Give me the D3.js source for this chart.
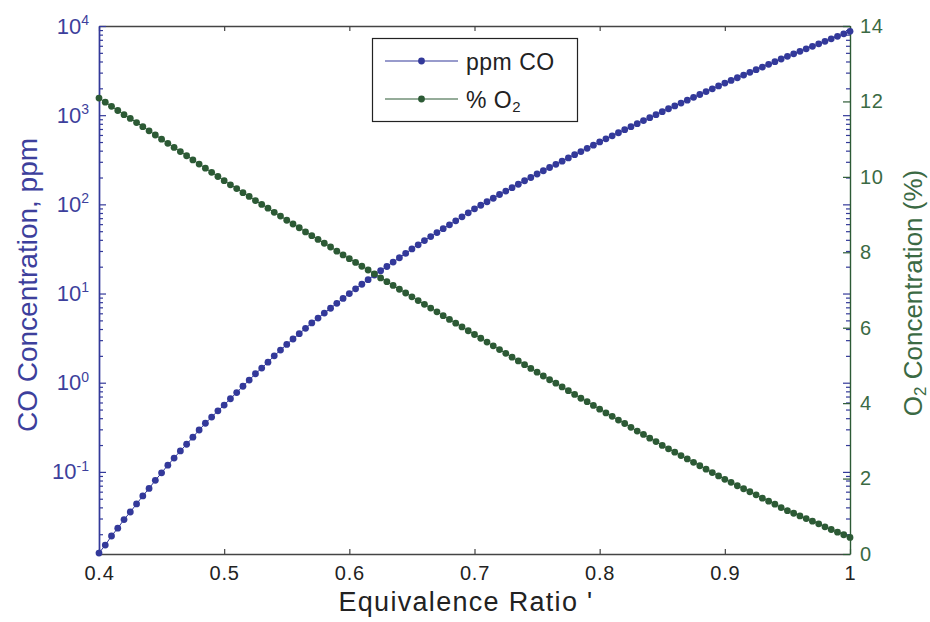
<!DOCTYPE html>
<html><head><meta charset="utf-8">
<script src="https://cdn.jsdelivr.net/npm/d3@7"></script>
<style>
body{margin:0;background:#fff}
svg{display:block}
text{font-family:"Liberation Sans",Arial,Helvetica,sans-serif}
</style>
</head><body>
<svg id="c" width="930" height="622"></svg>
<script>
// Equivalence ratio (x)
const phi = [
0.400,0.405,0.410,0.415,0.420,0.425,0.430,0.435,0.440,0.445,
0.450,0.455,0.460,0.465,0.470,0.475,0.480,0.485,0.490,0.495,
0.500,0.505,0.510,0.515,0.520,0.525,0.530,0.535,0.540,0.545,
0.550,0.555,0.560,0.565,0.570,0.575,0.580,0.585,0.590,0.595,
0.600,0.605,0.610,0.615,0.620,0.625,0.630,0.635,0.640,0.645,
0.650,0.655,0.660,0.665,0.670,0.675,0.680,0.685,0.690,0.695,
0.700,0.705,0.710,0.715,0.720,0.725,0.730,0.735,0.740,0.745,
0.750,0.755,0.760,0.765,0.770,0.775,0.780,0.785,0.790,0.795,
0.800,0.805,0.810,0.815,0.820,0.825,0.830,0.835,0.840,0.845,
0.850,0.855,0.860,0.865,0.870,0.875,0.880,0.885,0.890,0.895,
0.900,0.905,0.910,0.915,0.920,0.925,0.930,0.935,0.940,0.945,
0.950,0.955,0.960,0.965,0.970,0.975,0.980,0.985,0.990,0.995,
1.000];
// CO concentration, ppm (left, log axis)
const coPpm = [
0.0123,0.0151,0.0191,0.0234,0.0292,0.0355,0.0437,0.0537,0.0653,0.0804,
0.0977,0.119,0.143,0.172,0.204,0.245,0.295,0.351,0.412,0.484,
0.562,0.661,0.776,0.912,1.07,1.26,1.46,1.70,2.00,2.32,
2.69,3.09,3.55,4.07,4.68,5.31,6.03,6.84,7.76,8.81,
10.0,11.3,12.7,14.3,16.1,18.0,20.1,22.5,25.2,28.2,
31.6,35.2,39.2,43.5,48.2,53.3,59.0,65.3,72.4,80.4,
89.1,97.7,107,117,129,141,154,168,184,200,
219,238,259,281,305,332,361,391,425,461,
501,543,587,635,687,743,804,869,938,1014,
1096,1180,1271,1368,1472,1585,1706,1837,1977,2128,
2291,2455,2630,2818,3020,3236,3467,3715,3981,4266,
4571,4875,5200,5546,5916,6310,6730,7178,7656,8166,
8710];
// O2 concentration, % (right, linear axis)
const o2Pct = [
12.09,11.98,11.87,11.76,11.65,11.55,11.44,11.33,11.22,11.11,
11.00,10.89,10.78,10.67,10.56,10.45,10.34,10.23,10.12,10.01,
9.90,9.79,9.69,9.58,9.48,9.37,9.27,9.17,9.06,8.96,
8.85,8.75,8.65,8.54,8.44,8.34,8.24,8.14,8.03,7.93,
7.83,7.73,7.63,7.53,7.43,7.32,7.22,7.12,7.02,6.92,
6.82,6.72,6.62,6.52,6.42,6.32,6.22,6.12,6.02,5.92,
5.82,5.72,5.62,5.52,5.42,5.32,5.22,5.12,5.02,4.92,
4.82,4.72,4.62,4.53,4.43,4.33,4.23,4.13,4.04,3.94,
3.84,3.74,3.65,3.55,3.46,3.36,3.26,3.17,3.07,2.98,
2.88,2.79,2.70,2.61,2.52,2.43,2.34,2.25,2.16,2.07,
1.98,1.90,1.81,1.73,1.65,1.57,1.48,1.40,1.32,1.23,
1.15,1.08,1.01,0.94,0.87,0.80,0.72,0.65,0.58,0.51,
0.44];
const xTicks = [0.4,0.5,0.6,0.7,0.8,0.9,1.0];
const xTickLabels = ["0.4","0.5","0.6","0.7","0.8","0.9","1"];
const coDecadeExp = [-1,0,1,2,3,4];
const coMinorMult = [2,3,4,5,6,7,8,9];
const o2Ticks = [0,2,4,6,8,10,12,14];

const BLUE = "#33399a", BLUE_TXT = "#3d3f9c";
const GREEN = "#2c5a35", GREEN_TXT = "#3b6a44";
const AXIS = "#444";

const svg = d3.select("#c");
const L = 99, R = 850, T = 26, B = 554;
const x = d3.scaleLinear().domain([0.4, 1]).range([L, R]);
const yL = d3.scaleLog().domain([0.012, 10000]).range([B, T]);
const yR = d3.scaleLinear().domain([0, 14]).range([B, T]);

const majors = coDecadeExp.map(e => Math.pow(10, e));
const minors = [];
[-2,-1,0,1,2,3].forEach(e => coMinorMult.forEach(m => {
  const v = m * Math.pow(10, e);
  if (v >= 0.012 && v < 10000) minors.push(v);
}));

function styleAxis(g, color, w) {
  g.selectAll("path.domain").attr("stroke", color).attr("stroke-width", w);
  g.selectAll(".tick line").attr("stroke", color).attr("stroke-width", 1.2);
}

// Bottom axis
const gB = svg.append("g").attr("transform", `translate(0,${B})`)
  .call(d3.axisBottom(x).tickValues(xTicks).tickSizeInner(-5).tickSizeOuter(0).tickPadding(12)
    .tickFormat((d,i) => xTickLabels[i]));
styleAxis(gB, AXIS, 1.4);
gB.selectAll("text").attr("font-size", 20).attr("letter-spacing", 0.8).attr("fill", "#222");

// Top axis
const gT = svg.append("g").attr("transform", `translate(0,${T})`)
  .call(d3.axisTop(x).tickValues(xTicks).tickSizeInner(-5).tickSizeOuter(0).tickFormat(""));
styleAxis(gT, AXIS, 1.4);

// Left log axis (major, minor)
const gLmin = svg.append("g").attr("transform", `translate(${L},0)`)
  .call(d3.axisLeft(yL).tickValues(minors).tickSizeInner(-4).tickSizeOuter(0).tickFormat(""));
styleAxis(gLmin, BLUE, 1.4);
const gL = svg.append("g").attr("transform", `translate(${L},0)`)
  .call(d3.axisLeft(yL).tickValues(majors).tickSizeInner(-7).tickSizeOuter(0).tickPadding(10)
    .tickFormat(""));
styleAxis(gL, BLUE, 1.4);
gL.selectAll(".tick text").each(function(d, i) {
  const t = d3.select(this).attr("font-size", 22).attr("fill", BLUE_TXT);
  t.text("10");
  t.append("tspan").attr("font-size", 14).attr("dy", "-0.62em").text(String(coDecadeExp[i]));
});

// Right mirrored log ticks (blue)
const gRminL = svg.append("g").attr("transform", `translate(${R},0)`)
  .call(d3.axisRight(yL).tickValues(minors).tickSizeInner(-4).tickSizeOuter(0).tickFormat(""));
styleAxis(gRminL, BLUE, 0);
const gRmajL = svg.append("g").attr("transform", `translate(${R},0)`)
  .call(d3.axisRight(yL).tickValues(majors).tickSizeInner(-7).tickSizeOuter(0).tickFormat(""));
styleAxis(gRmajL, BLUE, 0);

// Right linear axis (green)
const gR = svg.append("g").attr("transform", `translate(${R},0)`)
  .call(d3.axisRight(yR).tickValues(o2Ticks).tickSizeInner(-7).tickSizeOuter(0).tickPadding(10));
styleAxis(gR, GREEN, 1.4);
gR.selectAll("text").attr("font-size", 20).attr("letter-spacing", 0.6).attr("fill", GREEN_TXT);

// Series
const lineCO = d3.line().x((d,i) => x(phi[i])).y(d => yL(d));
const lineO2 = d3.line().x((d,i) => x(phi[i])).y(d => yR(d));

svg.append("path").attr("d", lineCO(coPpm)).attr("fill", "none").attr("stroke", BLUE).attr("stroke-width", 1);
svg.append("g").selectAll("circle").data(coPpm).join("circle")
  .attr("cx", (d,i) => x(phi[i])).attr("cy", d => yL(d)).attr("r", 3.4).attr("fill", BLUE);

svg.append("path").attr("d", lineO2(o2Pct)).attr("fill", "none").attr("stroke", GREEN).attr("stroke-width", 1);
svg.append("g").selectAll("circle").data(o2Pct).join("circle")
  .attr("cx", (d,i) => x(phi[i])).attr("cy", d => yR(d)).attr("r", 3.4).attr("fill", GREEN);

// Legend
const lg = svg.append("g");
lg.append("rect").attr("x", 372.5).attr("y", 38.5).attr("width", 205).attr("height", 83)
  .attr("fill", "#fff").attr("stroke", "#222").attr("stroke-width", 1.2);
[[BLUE, 61, "ppm CO"], [GREEN, 99, "% O"]].forEach(([c, yy, label], k) => {
  lg.append("line").attr("x1", 385).attr("x2", 458).attr("y1", yy).attr("y2", yy).attr("stroke", c).attr("stroke-width", 1.2);
  lg.append("circle").attr("cx", 421.5).attr("cy", yy).attr("r", 3.4).attr("fill", c);
  const t = lg.append("text").attr("x", 466).attr("y", yy + 9).attr("font-size", 23)
    .attr("letter-spacing", 0.5).attr("fill", "#222").text(label);
  if (k === 1) t.append("tspan").attr("font-size", 15).attr("dy", 4).text("2");
});

// Axis titles
svg.append("text").attr("x", 466).attr("y", 611).attr("text-anchor", "middle")
  .attr("font-size", 27).attr("fill", "#222").attr("letter-spacing", 1.3).text("Equivalence Ratio '");

svg.append("text").attr("transform", "translate(37,285) rotate(-90)").attr("text-anchor", "middle")
  .attr("font-size", 28).attr("fill", BLUE_TXT).text("CO Concentration, ppm");

const rt = svg.append("text").attr("transform", "translate(922,293) rotate(-90)").attr("text-anchor", "middle")
  .attr("font-size", 26).attr("fill", GREEN_TXT);
rt.append("tspan").text("O");
rt.append("tspan").attr("font-size", 17).attr("dy", 4).text("2");
rt.append("tspan").attr("dy", -4).text(" Concentration (%)");
</script>
</body></html>
